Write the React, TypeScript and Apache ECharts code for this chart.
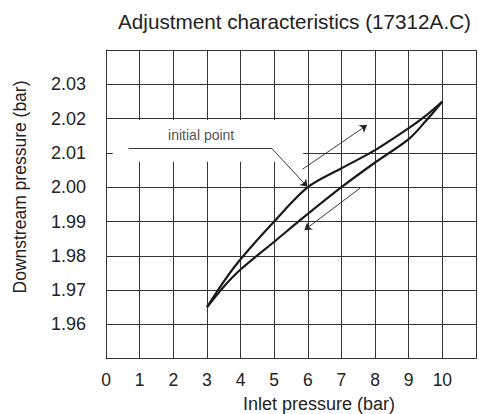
import React, { useEffect, useRef } from "react";
import * as echarts from "echarts";

const titleText = "Adjustment characteristics (17312A.C)";
const xName = "Inlet pressure (bar)";
const yName = "Downstream pressure (bar)";
const annotationText = "initial point";

// Rising branch (inlet pressure increasing)
const inletUp = [3, 3.5, 4, 5, 6, 7, 8, 9, 9.5, 10];
const outletUp = [1.965, 1.9725, 1.979, 1.99, 2.0, 2.0055, 2.0108, 2.0172, 2.0208, 2.025];
// Falling branch (inlet pressure decreasing)
const inletDown = [10, 9.5, 9, 8, 7, 6, 5, 4, 3.5, 3];
const outletDown = [2.025, 2.0192, 2.014, 2.0072, 2.0, 1.9922, 1.9841, 1.976, 1.971, 1.965];

// Annotation geometry in data units
const labelBox = [[0.2, 2.0196], [5.86, 2.0074]];
const labelAnchor = [2.83, 2.0152];
const leaderStart = [0.67, 2.0113];
const leaderBend = [4.93, 2.0113];
const initialPoint = [5.99, 2.0001];
const arrowUp = [[5.85, 2.0053], [7.76, 2.0181]];
const arrowDown = [[7.55, 1.9997], [5.9, 1.9875]];

const xMin = 0, xMax = 11, xStep = 1;
const yMin = 1.95, yMax = 2.04, yStep = 0.01;

const FONT = "'Liberation Sans', Arial, sans-serif";

export default function App() {
  const ref = useRef<HTMLDivElement>(null);
  useEffect(() => {
    document.body.style.margin = "0";
    const chart = echarts.init(ref.current!, null, { renderer: "svg" });
    const gridColor = "#333333";
    chart.setOption({
      animation: false,
      backgroundColor: "#ffffff",
      grid: { left: 106, top: 50, width: 377.3, height: 308.7 },
      xAxis: {
        type: "value",
        min: xMin,
        max: xMax,
        interval: xStep,
        axisLine: { show: true, lineStyle: { color: gridColor, width: 1 } },
        axisTick: { show: false },
        splitLine: { show: true, lineStyle: { color: gridColor, width: 1 } },
        axisLabel: {
          margin: 12,
          fontSize: 17.5,
          fontFamily: FONT,
          color: "#222",
          formatter: (v: number) => (v > 10.5 ? "" : String(Math.round(v))),
        },
      },
      yAxis: {
        type: "value",
        min: yMin,
        max: yMax,
        interval: yStep,
        axisLine: { show: true, lineStyle: { color: gridColor, width: 1 } },
        axisTick: { show: false },
        splitLine: { show: true, lineStyle: { color: gridColor, width: 1 } },
        axisLabel: {
          margin: 20,
          fontSize: 18,
          fontFamily: FONT,
          color: "#222",
          formatter: (v: number) => (v < 1.955 || v > 2.035 ? "" : v.toFixed(2)),
        },
      },
      graphic: [
        {
          type: "text",
          x: 294.5,
          y: 21,
          style: {
            text: titleText,
            fontSize: 20.7,
            fontFamily: FONT,
            fill: "#222",
            textAlign: "center",
            textVerticalAlign: "middle",
          },
        },
        {
          type: "text",
          x: 319,
          y: 404,
          style: {
            text: xName,
            fontSize: 18,
            fontFamily: FONT,
            fill: "#222",
            textAlign: "center",
            textVerticalAlign: "middle",
          },
        },
        {
          type: "text",
          x: 20,
          y: 187,
          rotation: Math.PI / 2,
          style: {
            text: yName,
            fontSize: 17.5,
            fontFamily: FONT,
            fill: "#222",
            textAlign: "center",
            textVerticalAlign: "middle",
          },
        },
      ],
      series: [
        {
          type: "line",
          data: inletUp.map((x, i) => [x, outletUp[i]]),
          smooth: 0.3,
          symbol: "none",
          lineStyle: { color: "#1a1a1a", width: 2.2 },
          z: 4,
          markArea: {
            silent: true,
            itemStyle: { color: "#ffffff", opacity: 1 },
            data: [[
              { coord: labelBox[0] },
              { coord: labelBox[1] },
            ]],
          },
        },
        {
          type: "line",
          data: inletDown.map((x, i) => [x, outletDown[i]]),
          smooth: 0.3,
          symbol: "none",
          lineStyle: { color: "#1a1a1a", width: 2.2 },
          z: 4,
        },
        {
          type: "lines",
          coordinateSystem: "cartesian2d",
          symbol: ["none", "none"],
          lineStyle: { color: "#222", width: 0.9, opacity: 1 },
          z: 6,
          data: [{ coords: [leaderStart, leaderBend] }],
        },
        {
          type: "lines",
          coordinateSystem: "cartesian2d",
          symbol: ["none", "arrow"],
          symbolSize: 7,
          lineStyle: { color: "#222", width: 0.9, opacity: 1 },
          itemStyle: { color: "#222" },
          z: 6,
          data: [
            { coords: [leaderBend, initialPoint] },
            { coords: arrowUp },
            { coords: arrowDown },
          ],
        },
        {
          type: "scatter",
          data: [labelAnchor],
          symbolSize: 0,
          z: 6,
          label: {
            show: true,
            position: "inside",
            formatter: annotationText,
            fontSize: 14,
            fontFamily: FONT,
            color: "#222",
          },
        },
      ],
    });
    return () => chart.dispose();
  }, []);
  return (
    <div
      ref={ref}
      style={{ position: "absolute", left: 0, top: 0, width: 479, height: 414 }}
    />
  );
}
